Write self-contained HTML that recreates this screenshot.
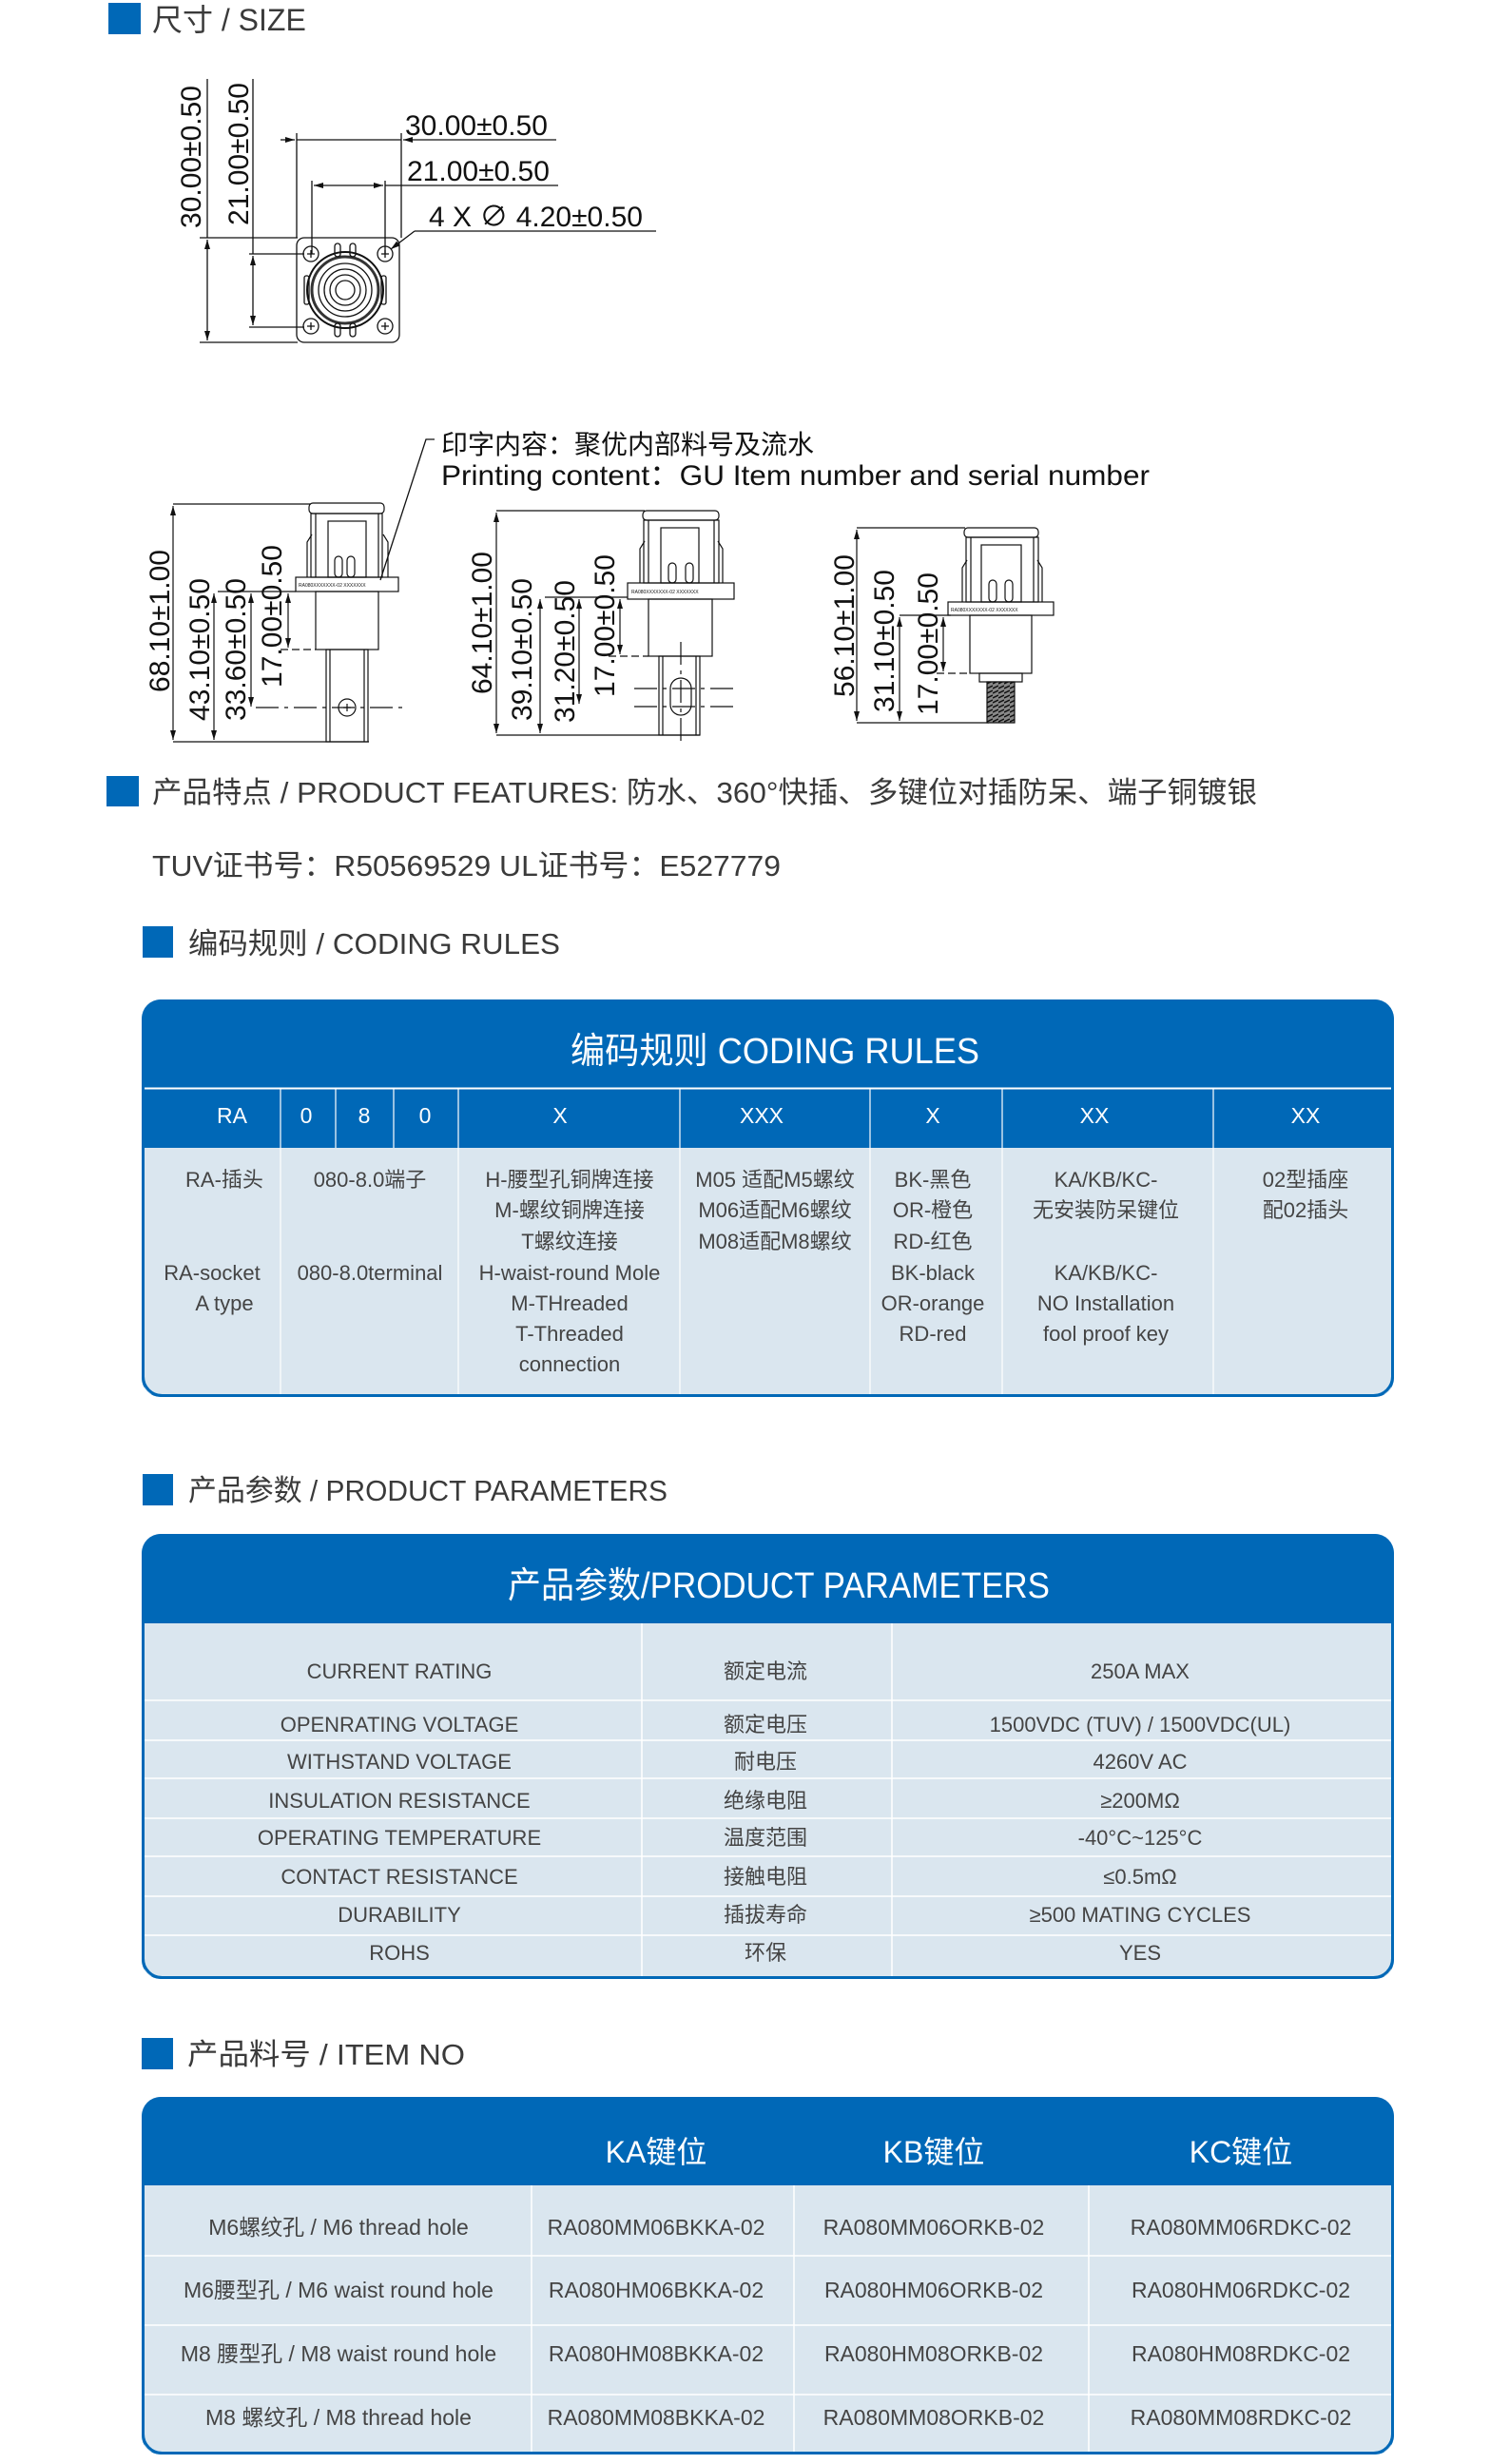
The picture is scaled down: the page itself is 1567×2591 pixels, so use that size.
<!DOCTYPE html>
<html><head><meta charset="utf-8"><style>
html,body{margin:0;padding:0;background:#fff;}
svg{display:block;}
text{font-family:"Liberation Sans","Noto Sans CJK SC",sans-serif;}
</style></head><body>
<svg width="1567" height="2591" viewBox="0 0 1567 2591" xmlns="http://www.w3.org/2000/svg">
<defs>
<marker id="ar" viewBox="0 0 10 6" refX="10" refY="3" markerWidth="10" markerHeight="6" orient="auto-start-reverse" markerUnits="userSpaceOnUse"><path d="M0,0 L10,3 L0,6 z" fill="#111"/></marker>
<clipPath id="ct"><rect x="149" y="1051" width="1317" height="418" rx="20"/></clipPath>
<clipPath id="pt"><rect x="149" y="1613" width="1317" height="468" rx="20"/></clipPath>
<clipPath id="it"><rect x="149" y="2205" width="1317" height="376" rx="20"/></clipPath>
<pattern id="thr" width="6" height="5" patternUnits="userSpaceOnUse"><rect width="6" height="5" fill="#888"/><path d="M0,4L6,1" stroke="#111" stroke-width="1.5"/></pattern>
</defs>

<rect x="114" y="3" width="34" height="33" fill="#0068b7"/>
<text x="160" y="32" font-size="32" fill="#3a3a3a">尺寸 / SIZE</text>

<g stroke="#111" stroke-width="1.3" fill="none">
<line x1="218" y1="83" x2="218" y2="250"/>
<line x1="218" y1="252" x2="218" y2="358" marker-start="url(#ar)" marker-end="url(#ar)"/>
<line x1="266" y1="83" x2="266" y2="267"/>
<line x1="266" y1="269" x2="266" y2="342" marker-start="url(#ar)" marker-end="url(#ar)"/>
<line x1="210" y1="250" x2="313" y2="250"/>
<line x1="210" y1="360" x2="313" y2="360"/>
<line x1="262" y1="267" x2="320" y2="267"/>
<line x1="262" y1="344" x2="320" y2="344"/>
<line x1="295" y1="147" x2="310" y2="147" marker-end="url(#ar)"/>
<line x1="312" y1="147" x2="422" y2="147"/>
<line x1="585" y1="147" x2="424" y2="147" marker-end="url(#ar)"/>
<line x1="312" y1="140" x2="312" y2="250"/>
<line x1="422" y1="140" x2="422" y2="250"/>
<line x1="330" y1="195" x2="403" y2="195" marker-start="url(#ar)" marker-end="url(#ar)"/>
<line x1="405" y1="195" x2="587" y2="195"/>
<line x1="328" y1="190" x2="328" y2="267"/>
<line x1="405" y1="190" x2="405" y2="267"/>
<line x1="436" y1="243" x2="690" y2="243"/>
<line x1="436" y1="243" x2="411" y2="262" marker-end="url(#ar)"/>
<rect x="312" y="250" width="108" height="110" rx="8"/>
<circle cx="327" cy="267" r="8"/><circle cx="405" cy="267" r="8"/><circle cx="327" cy="343" r="8"/><circle cx="405" cy="343" r="8"/>
<path d="M323,267h8M327,263v8M401,267h8M405,263v8M323,343h8M327,339v8M401,343h8M405,339v8"/>
<circle cx="363" cy="305" r="40" stroke-width="2"/>
<circle cx="363" cy="305" r="35" stroke-width="3" stroke="#333"/>
<circle cx="363" cy="305" r="28"/>
<circle cx="363" cy="305" r="22"/>
<circle cx="363" cy="305" r="16"/>
<circle cx="363" cy="305" r="10"/>
<rect x="352" y="256" width="6" height="14" rx="3"/><rect x="368" y="256" width="6" height="14" rx="3"/>
<rect x="352" y="340" width="6" height="14" rx="3"/><rect x="368" y="340" width="6" height="14" rx="3"/>
<rect x="320" y="290" width="5" height="30" rx="2"/><rect x="401" y="290" width="5" height="30" rx="2"/>
</g>
<g font-size="30" fill="#111">
<text x="426" y="142">30.00±0.50</text>
<text x="428" y="190">21.00±0.50</text>
<text x="451" y="238">4 X ∅ 4.20±0.50</text>
<text transform="translate(211,165) rotate(-90)" text-anchor="middle">30.00±0.50</text>
<text transform="translate(261,162) rotate(-90)" text-anchor="middle">21.00±0.50</text>
</g>

<g stroke="#111" stroke-width="1.3" fill="none">
<polyline points="457,462 448,462 400,610"/>
</g>
<text x="464" y="477" font-size="28" fill="#111">印字内容：聚优内部料号及流水</text>
<text x="464" y="510" font-size="30" fill="#111" textLength="745" lengthAdjust="spacingAndGlyphs">Printing content：GU Item number and serial number</text>

<g stroke="#111" stroke-width="1.2" fill="none">
<line x1="182" y1="532" x2="182" y2="778" marker-start="url(#ar)" marker-end="url(#ar)"/>
<line x1="182" y1="530" x2="327" y2="530"/>
<line x1="182" y1="780" x2="388" y2="780"/>
<line x1="225" y1="624" x2="225" y2="778" marker-start="url(#ar)" marker-end="url(#ar)"/>
<line x1="264" y1="624" x2="264" y2="743" marker-start="url(#ar)" marker-end="url(#ar)"/>
<line x1="303" y1="624" x2="303" y2="681" marker-start="url(#ar)" marker-end="url(#ar)"/>
<line x1="229" y1="622" x2="311" y2="622"/>
<line x1="295" y1="683" x2="332" y2="683" stroke-dasharray="8,4"/>
<line x1="269" y1="744" x2="426" y2="744" stroke-dasharray="24,6,4,6"/>
<rect x="325" y="529" width="79" height="11" rx="4"/>
<rect x="327" y="540" width="75" height="67"/>
<rect x="345" y="548" width="40" height="59"/>
<path d="M323,607V570l5,-8M408,607V570l-5,-8M332,540V607M398,540V607"/>
<rect x="352" y="585" width="8" height="22" rx="4"/><rect x="365" y="585" width="8" height="22" rx="4"/>
<rect x="311" y="607" width="108" height="15"/>
<rect x="332" y="622" width="66" height="61"/>
<rect x="343" y="683" width="44" height="97"/>
<path d="M347,683V780M383,683V780"/>
<circle cx="365" cy="744" r="9"/>
<path d="M361,744h8M365,740v8"/>
</g>
<text x="314" y="617" font-size="5" fill="#111">RA080XXXXXXX-02   XXXXXXX</text>
<g font-size="30" fill="#111">
<text transform="translate(178,653) rotate(-90)" text-anchor="middle">68.10±1.00</text>
<text transform="translate(220,683) rotate(-90)" text-anchor="middle">43.10±0.50</text>
<text transform="translate(258,683) rotate(-90)" text-anchor="middle">33.60±0.50</text>
<text transform="translate(296,648) rotate(-90)" text-anchor="middle">17.00±0.50</text>
</g>

<g stroke="#111" stroke-width="1.2" fill="none">
<line x1="522" y1="539" x2="522" y2="771" marker-start="url(#ar)" marker-end="url(#ar)"/>
<line x1="522" y1="537" x2="678" y2="537"/>
<line x1="522" y1="773" x2="736" y2="773"/>
<line x1="568" y1="630" x2="568" y2="771" marker-start="url(#ar)" marker-end="url(#ar)"/>
<line x1="609" y1="630" x2="609" y2="740" marker-start="url(#ar)" marker-end="url(#ar)"/>
<line x1="652" y1="630" x2="652" y2="688" marker-start="url(#ar)" marker-end="url(#ar)"/>
<line x1="573" y1="628" x2="660" y2="628"/>
<line x1="640" y1="690" x2="682" y2="690" stroke-dasharray="8,4"/>
<line x1="667" y1="724" x2="772" y2="724" stroke-dasharray="24,6,4,6"/>
<line x1="667" y1="743" x2="772" y2="743" stroke-dasharray="24,6,4,6"/>
<line x1="716" y1="675" x2="716" y2="780" stroke-dasharray="24,6,4,6"/>
<rect x="676" y="537" width="80" height="10" rx="4"/>
<rect x="677" y="547" width="79" height="66"/>
<rect x="695" y="555" width="40" height="58"/>
<path d="M673,613V577l5,-8M760,613V577l-5,-8M682,547V613M751,547V613"/>
<rect x="703" y="592" width="8" height="21" rx="4"/><rect x="721" y="592" width="8" height="21" rx="4"/>
<rect x="660" y="613" width="112" height="17"/>
<rect x="682" y="630" width="67" height="60"/>
<rect x="693" y="690" width="43" height="83"/>
<path d="M697,690V773M732,690V773"/>
<rect x="705" y="713" width="22" height="39" rx="11"/>
</g>
<text x="664" y="624" font-size="5" fill="#111">RA080XXXXXXX-02   XXXXXXX</text>
<g font-size="30" fill="#111">
<text transform="translate(517,655) rotate(-90)" text-anchor="middle">64.10±1.00</text>
<text transform="translate(559,683) rotate(-90)" text-anchor="middle">39.10±0.50</text>
<text transform="translate(604,685) rotate(-90)" text-anchor="middle">31.20±0.50</text>
<text transform="translate(646,658) rotate(-90)" text-anchor="middle">17.00±0.50</text>
</g>

<g stroke="#111" stroke-width="1.2" fill="none">
<line x1="901" y1="557" x2="901" y2="758" marker-start="url(#ar)" marker-end="url(#ar)"/>
<line x1="901" y1="555" x2="1015" y2="555"/>
<line x1="901" y1="760" x2="1040" y2="760"/>
<line x1="946" y1="649" x2="946" y2="758" marker-start="url(#ar)" marker-end="url(#ar)"/>
<line x1="992" y1="649" x2="992" y2="706" marker-start="url(#ar)" marker-end="url(#ar)"/>
<line x1="946" y1="647" x2="1000" y2="647"/>
<line x1="985" y1="708" x2="1020" y2="708" stroke-dasharray="8,4"/>
<rect x="1014" y="555" width="78" height="10" rx="4"/>
<rect x="1016" y="565" width="76" height="68"/>
<rect x="1032" y="573" width="42" height="60"/>
<path d="M1012,633V597l5,-8M1096,633V597l-5,-8M1021,565V633M1087,565V633"/>
<rect x="1040" y="610" width="8" height="23" rx="4"/><rect x="1057" y="610" width="8" height="23" rx="4"/>
<rect x="997" y="633" width="111" height="14"/>
<rect x="1020" y="647" width="65" height="61"/>
<rect x="1030" y="708" width="45" height="9"/>
<rect x="1038" y="717" width="29" height="43" fill="url(#thr)"/>
</g>
<text x="1000" y="643" font-size="5" fill="#111">RA080XXXXXXX-02   XXXXXXX</text>
<g font-size="30" fill="#111">
<text transform="translate(898,658) rotate(-90)" text-anchor="middle">56.10±1.00</text>
<text transform="translate(940,674) rotate(-90)" text-anchor="middle">31.10±0.50</text>
<text transform="translate(986,677) rotate(-90)" text-anchor="middle">17.00±0.50</text>
</g>

<rect x="112" y="816" width="34" height="32" fill="#0068b7"/>
<text x="160" y="844" font-size="31" fill="#3a3a3a" textLength="1162" lengthAdjust="spacingAndGlyphs">产品特点 / PRODUCT FEATURES: 防水、360°快插、多键位对插防呆、端子铜镀银</text>
<text x="160" y="921" font-size="31" fill="#3a3a3a" textLength="661" lengthAdjust="spacingAndGlyphs">TUV证书号：R50569529 UL证书号：E527779</text>

<rect x="150" y="974" width="32" height="33" fill="#0068b7"/>
<text x="198" y="1003" font-size="31" fill="#3a3a3a" textLength="391" lengthAdjust="spacingAndGlyphs">编码规则 / CODING RULES</text>

<g clip-path="url(#ct)">
<rect x="149" y="1051" width="1317" height="418" fill="#0068b7"/>
<rect x="152" y="1207" width="1311" height="259" fill="#dae6ef"/>
<line x1="149" y1="1144.5" x2="1466" y2="1144.5" stroke="#fff" stroke-width="2"/>
<g stroke="#fff" stroke-width="1.2">
<line x1="295" y1="1145" x2="295" y2="1466"/>
<line x1="353" y1="1145" x2="353" y2="1207"/>
<line x1="414" y1="1145" x2="414" y2="1207"/>
<line x1="482" y1="1145" x2="482" y2="1466"/>
<line x1="715" y1="1145" x2="715" y2="1466"/>
<line x1="915" y1="1145" x2="915" y2="1466"/>
<line x1="1054" y1="1145" x2="1054" y2="1466"/>
<line x1="1276" y1="1145" x2="1276" y2="1466"/>
</g>
</g>
<rect x="150.5" y="1052.5" width="1314" height="415" rx="20" fill="none" stroke="#0068b7" stroke-width="3"/>
<text x="815" y="1118" font-size="38" fill="#fff" text-anchor="middle" textLength="430" lengthAdjust="spacingAndGlyphs">编码规则 CODING RULES</text>
<g font-size="23" fill="#fff" text-anchor="middle">
<text x="244" y="1181">RA</text><text x="322" y="1181">0</text><text x="383" y="1181">8</text><text x="447" y="1181">0</text>
<text x="589" y="1181">X</text><text x="801" y="1181">XXX</text><text x="981" y="1181">X</text><text x="1151" y="1181">XX</text><text x="1373" y="1181">XX</text>
</g>
<g font-size="22" fill="#444" text-anchor="middle">
<text x="236" y="1248">RA-插头</text><text x="223" y="1346">RA-socket</text><text x="236" y="1378">A type</text>
<text x="389" y="1248">080-8.0端子</text><text x="389" y="1346">080-8.0terminal</text>
<text x="599" y="1248">H-腰型孔铜牌连接</text><text x="599" y="1280">M-螺纹铜牌连接</text><text x="599" y="1313">T螺纹连接</text><text x="599" y="1346">H-waist-round Mole</text><text x="599" y="1378">M-THreaded</text><text x="599" y="1410">T-Threaded</text><text x="599" y="1442">connection</text>
<text x="815" y="1248">M05 适配M5螺纹</text><text x="815" y="1280">M06适配M6螺纹</text><text x="815" y="1313">M08适配M8螺纹</text>
<text x="981" y="1248">BK-黑色</text><text x="981" y="1280">OR-橙色</text><text x="981" y="1313">RD-红色</text><text x="981" y="1346">BK-black</text><text x="981" y="1378">OR-orange</text><text x="981" y="1410">RD-red</text>
<text x="1163" y="1248">KA/KB/KC-</text><text x="1163" y="1280">无安装防呆键位</text><text x="1163" y="1346">KA/KB/KC-</text><text x="1163" y="1378">NO Installation</text><text x="1163" y="1410">fool proof key</text>
<text x="1373" y="1248">02型插座</text><text x="1373" y="1280">配02插头</text>
</g>

<rect x="150" y="1550" width="32" height="33" fill="#0068b7"/>
<text x="198" y="1578" font-size="31" fill="#3a3a3a" textLength="504" lengthAdjust="spacingAndGlyphs">产品参数 / PRODUCT PARAMETERS</text>

<g clip-path="url(#pt)">
<rect x="149" y="1613" width="1317" height="468" fill="#0068b7"/>
<rect x="152" y="1707" width="1311" height="371" fill="#dae6ef"/>
<g stroke="#fff" stroke-width="1.5">
<line x1="675" y1="1707" x2="675" y2="2078"/><line x1="938" y1="1707" x2="938" y2="2078"/>
<line x1="152" y1="1788" x2="1463" y2="1788"/><line x1="152" y1="1830" x2="1463" y2="1830"/>
<line x1="152" y1="1870" x2="1463" y2="1870"/><line x1="152" y1="1912" x2="1463" y2="1912"/>
<line x1="152" y1="1952" x2="1463" y2="1952"/><line x1="152" y1="1994" x2="1463" y2="1994"/>
<line x1="152" y1="2035" x2="1463" y2="2035"/>
</g>
</g>
<rect x="150.5" y="1614.5" width="1314" height="465" rx="20" fill="none" stroke="#0068b7" stroke-width="3"/>
<text x="819" y="1680" font-size="38" fill="#fff" text-anchor="middle" textLength="570" lengthAdjust="spacingAndGlyphs">产品参数/PRODUCT PARAMETERS</text>
<g font-size="22" fill="#444" text-anchor="middle">
<text x="420" y="1765">CURRENT RATING</text><text x="805" y="1765">额定电流</text><text x="1199" y="1765">250A MAX</text>
<text x="420" y="1821">OPENRATING VOLTAGE</text><text x="805" y="1821">额定电压</text><text x="1199" y="1821">1500VDC (TUV) / 1500VDC(UL)</text>
<text x="420" y="1860">WITHSTAND VOLTAGE</text><text x="805" y="1860">耐电压</text><text x="1199" y="1860">4260V AC</text>
<text x="420" y="1901">INSULATION RESISTANCE</text><text x="805" y="1901">绝缘电阻</text><text x="1199" y="1901">≥200MΩ</text>
<text x="420" y="1940">OPERATING TEMPERATURE</text><text x="805" y="1940">温度范围</text><text x="1199" y="1940">-40°C~125°C</text>
<text x="420" y="1981">CONTACT RESISTANCE</text><text x="805" y="1981">接触电阻</text><text x="1199" y="1981">≤0.5mΩ</text>
<text x="420" y="2021">DURABILITY</text><text x="805" y="2021">插拔寿命</text><text x="1199" y="2021">≥500 MATING CYCLES</text>
<text x="420" y="2061">ROHS</text><text x="805" y="2061">环保</text><text x="1199" y="2061">YES</text>
</g>

<rect x="149" y="2143" width="33" height="33" fill="#0068b7"/>
<text x="197" y="2171" font-size="31" fill="#3a3a3a" textLength="292" lengthAdjust="spacingAndGlyphs">产品料号 / ITEM NO</text>

<g clip-path="url(#it)">
<rect x="149" y="2205" width="1317" height="376" fill="#0068b7"/>
<rect x="152" y="2298" width="1311" height="280" fill="#dae6ef"/>
<g stroke="#fff" stroke-width="1.5">
<line x1="559" y1="2298" x2="559" y2="2578"/><line x1="835" y1="2298" x2="835" y2="2578"/><line x1="1145" y1="2298" x2="1145" y2="2578"/>
<line x1="152" y1="2372" x2="1463" y2="2372"/><line x1="152" y1="2445" x2="1463" y2="2445"/><line x1="152" y1="2518" x2="1463" y2="2518"/>
</g>
</g>
<rect x="150.5" y="2206.5" width="1314" height="373" rx="20" fill="none" stroke="#0068b7" stroke-width="3"/>
<g font-size="32" fill="#fff" text-anchor="middle">
<text x="690" y="2274">KA键位</text><text x="982" y="2274">KB键位</text><text x="1305" y="2274">KC键位</text>
</g>
<g font-size="23" fill="#444" text-anchor="middle">
<text x="356" y="2350">M6螺纹孔 / M6 thread hole</text><text x="690" y="2350">RA080MM06BKKA-02</text><text x="982" y="2350">RA080MM06ORKB-02</text><text x="1305" y="2350">RA080MM06RDKC-02</text>
<text x="356" y="2416">M6腰型孔 / M6 waist round hole</text><text x="690" y="2416">RA080HM06BKKA-02</text><text x="982" y="2416">RA080HM06ORKB-02</text><text x="1305" y="2416">RA080HM06RDKC-02</text>
<text x="356" y="2483">M8 腰型孔 / M8 waist round hole</text><text x="690" y="2483">RA080HM08BKKA-02</text><text x="982" y="2483">RA080HM08ORKB-02</text><text x="1305" y="2483">RA080HM08RDKC-02</text>
<text x="356" y="2550">M8 螺纹孔 / M8 thread hole</text><text x="690" y="2550">RA080MM08BKKA-02</text><text x="982" y="2550">RA080MM08ORKB-02</text><text x="1305" y="2550">RA080MM08RDKC-02</text>
</g>
</svg>
</body></html>
